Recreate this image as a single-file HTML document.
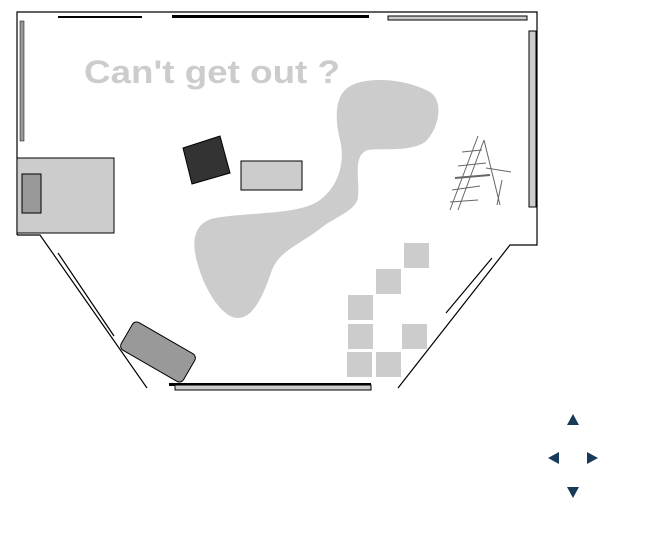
<!DOCTYPE html>
<html><head><style>body{margin:0;background:#fff}svg{display:block}</style></head><body>
<svg width="652" height="541" viewBox="0 0 652 541" xmlns="http://www.w3.org/2000/svg">
<rect width="652" height="541" fill="#fff"/>
<path d="M345,90 C360,75 405,78 430,92 C445,102 438,130 425,142 C410,152 385,148 368,150 C352,155 360,180 358,198 C355,210 340,215 325,225 C300,245 280,250 272,270 C265,290 255,318 238,318 C222,318 205,290 198,265 C190,240 195,222 215,218 C250,212 300,215 320,200 C340,185 345,160 340,140 C335,120 335,100 345,90 Z" fill="#ccc"/>
<text x="84" y="83" font-family="'Comic Sans MS','Liberation Sans',sans-serif" font-size="32" font-weight="bold" fill="#ccc" textLength="256" lengthAdjust="spacingAndGlyphs">Can't get out ?</text>
<g fill="none" stroke="#000" stroke-width="1.2">
<path d="M17,235 L17,12 L537,12 L537,245 L510,245 L398,388"/>
<path d="M17,235 L40,235 L147,388"/>
<line x1="58" y1="253" x2="114" y2="336"/>
<line x1="492" y1="258" x2="446" y2="313"/>
</g>
<rect x="58" y="16" width="84" height="2" fill="#000"/>
<rect x="172" y="15" width="197" height="3" fill="#000"/>
<rect x="388" y="16" width="139" height="4" fill="#ccc" stroke="#000" stroke-width="1"/>
<rect x="20" y="21" width="4" height="120" fill="#999" stroke="#000" stroke-width="0.5"/>
<rect x="529" y="31" width="7" height="176" fill="#ccc" stroke="#000" stroke-width="1"/>
<rect x="17" y="158" width="97" height="75" fill="#ccc" stroke="#000" stroke-width="1"/>
<rect x="22" y="174" width="19" height="39" fill="#999" stroke="#000" stroke-width="1"/>
<polygon points="183,148 220,136 230,173 192,184" fill="#333" stroke="#000"/>
<rect x="241" y="161" width="61" height="29" fill="#ccc" stroke="#000"/>
<g transform="translate(158,352) rotate(30)"><rect x="-36" y="-16" width="72" height="32" rx="5" fill="#999" stroke="#000"/></g>
<rect x="169" y="383" width="202" height="3" fill="#000"/>
<rect x="175" y="385" width="196" height="5" fill="#ccc" stroke="#000" stroke-width="1"/>
<g fill="#ccc">
<rect x="404" y="243" width="25" height="25"/>
<rect x="376" y="269" width="25" height="25"/>
<rect x="348" y="295" width="25" height="25"/>
<rect x="348" y="324" width="25" height="25"/>
<rect x="402" y="324" width="25" height="25"/>
<rect x="347" y="352" width="25" height="25"/>
<rect x="376" y="352" width="25" height="25"/>
</g>
<g stroke="#666" stroke-width="1" fill="none">
<line x1="450" y1="210" x2="478" y2="136"/>
<line x1="458" y1="210" x2="484" y2="140"/>
<line x1="484" y1="140" x2="500" y2="205"/>
<line x1="462" y1="152" x2="482" y2="150"/>
<line x1="458" y1="166" x2="486" y2="163"/>
<line x1="455" y1="178" x2="490" y2="175" stroke-width="2"/>
<line x1="452" y1="190" x2="480" y2="186"/>
<line x1="450" y1="202" x2="478" y2="200"/>
<line x1="486" y1="168" x2="511" y2="172"/>
<line x1="502" y1="180" x2="497" y2="205"/>
</g>
<g fill="#1a3a5a">
<polygon points="573,414 567,425 579,425"/>
<polygon points="548,458 559,452 559,464"/>
<polygon points="598,458 587,452 587,464"/>
<polygon points="573,498 567,487 579,487"/>
</g>
</svg>
</body></html>
